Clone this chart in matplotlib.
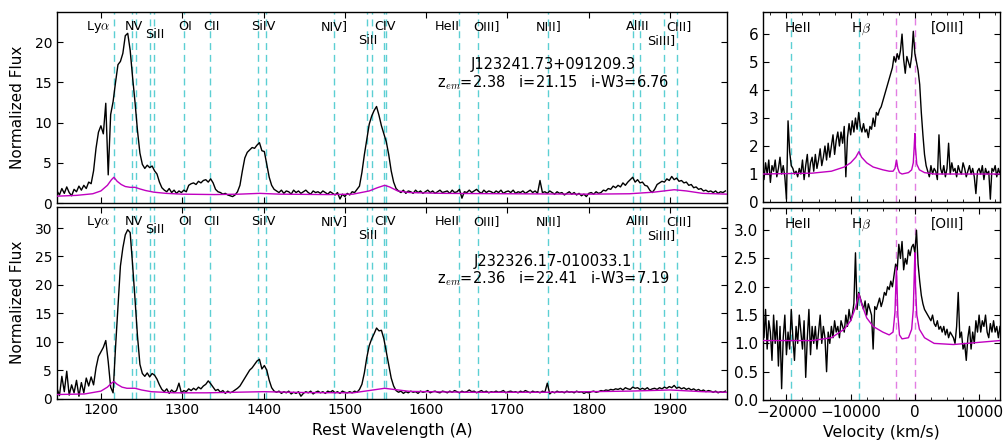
import matplotlib as mpl
import matplotlib.pyplot as plt
import numpy as np
from matplotlib.ticker import MultipleLocator, FormatStrFormatter

mpl.rcParams.update(
    {
        "font.family": "DejaVu Sans",
        "mathtext.fontset": "cm",
        "xtick.direction": "in",
        "ytick.direction": "in",
        "xtick.top": True,
        "ytick.right": True,
        "axes.linewidth": 1.0,
        "xtick.major.size": 4,
        "ytick.major.size": 4,
        "xtick.minor.size": 2,
    }
)

# ---- rest-frame UV spectra (3 A sampling) ----
wave = np.arange(1146, 1970, 3)

flux_j1232 = [
    1.5, 1.0, 1.8, 1.2, 2.0, 1.3, 0.9, 1.7, 1.4, 2.1,  # 1146
    1.6, 2.2, 1.8, 2.6, 2.4, 4.0, 6.8, 8.8, 9.6, 8.6,  # 1176
    12.4, 3.5, 11.0, 12.6, 15.0, 17.2, 17.6, 18.6, 20.8, 21.1,  # 1206
    19.0, 15.6, 12.5, 9.0, 6.2, 4.8, 4.3, 4.7, 4.4, 4.6,  # 1236
    4.0, 3.6, 2.6, 1.9, 1.6, 1.4, 1.8, 1.3, 1.6, 1.2,  # 1266
    1.5, 1.3, 1.6, 1.4, 2.2, 2.4, 2.5, 2.3, 2.7, 2.5,  # 1296
    2.8, 2.9, 2.6, 3.0, 2.5, 1.7, 1.4, 1.3, 1.1, 1.2,  # 1326
    1.0, 0.9, 0.8, 1.0, 1.4, 2.2, 4.0, 5.6, 6.3, 6.6,  # 1356
    6.9, 6.8, 7.2, 7.5, 6.5, 6.4, 4.8, 3.2, 2.2, 1.7,  # 1386
    1.5, 1.3, 1.6, 1.2, 1.5, 1.4, 1.1, 1.6, 1.3, 1.5,  # 1416
    1.2, 1.4, 1.6, 1.3, 1.1, 1.5, 1.3, 1.4, 1.2, 1.5,  # 1446
    1.3, 1.1, 1.4, 1.2, 1.0, 1.3, 0.5, 1.1, 0.8, 1.2,  # 1476
    1.0, 1.4, 1.3, 1.7, 2.1, 3.8, 6.0, 7.9, 9.8, 10.8,  # 1506
    11.5, 12.0, 10.9, 9.6, 8.6, 7.6, 6.0, 4.0, 2.6, 1.8,  # 1536
    1.5, 1.3, 1.6, 1.2, 1.5, 1.4, 1.2, 1.6, 1.3, 1.5,  # 1566
    1.2, 1.4, 1.6, 1.3, 1.5, 1.2, 1.4, 1.6, 1.3, 1.4,  # 1596
    1.5, 1.2, 1.6, 1.3, 1.4, 1.7, 0.6, 1.4, 1.3, 1.6,  # 1626
    1.3, 1.5, 1.7, 1.4, 1.2, 1.6, 1.3, 1.5, 1.4, 1.2,  # 1656
    1.5, 1.3, 1.6, 1.2, 1.4, 1.5, 1.3, 1.6, 1.2, 1.4,  # 1686
    1.3, 1.5, 1.2, 1.4, 1.6, 1.3, 1.5, 1.2, 2.8, 1.3,  # 1716
    1.4, 1.2, 1.5, 1.3, 1.1, 1.4, 1.2, 1.3, 1.0, 1.2,  # 1746
    1.4, 1.1, 1.3, 1.0, 1.2, 0.9, 1.1, 0.8, 1.2, 1.3,  # 1776
    1.1, 1.4, 1.2, 1.3, 1.6, 1.5, 1.8, 1.7, 2.1, 1.9,  # 1806
    2.2, 2.0, 2.5, 2.2, 2.6, 2.9, 3.2, 2.6, 2.9, 2.5,  # 1836
    2.6, 2.2, 2.1, 1.6, 1.3, 1.7, 2.3, 2.5, 2.7, 2.6,  # 1866
    3.0, 2.8, 3.3, 2.9, 3.1, 2.7, 2.8, 2.5, 2.6, 2.2,  # 1896
    2.3, 1.9, 2.0, 1.7, 1.8, 1.5, 1.6, 1.4, 1.5, 1.3,  # 1926
    1.5, 1.2, 1.4, 1.3, 1.5,  # 1956
]

flux_j2323 = [
    1.8, 0.5, 3.9, 1.2, 4.8, 0.6, 2.4, 1.0, 3.2, 0.4,  # 1146
    2.8, 1.0, 3.6, 2.2, 3.8, 2.4, 5.4, 7.4, 8.2, 9.0,  # 1176
    10.2, 6.5, 2.0, 1.0, 9.0, 16.0, 23.3, 26.5, 28.8, 29.7,  # 1206
    29.2, 23.5, 17.4, 11.0, 6.0, 4.4, 3.9, 4.5, 3.8, 4.4,  # 1236
    4.1, 3.4, 2.4, 1.6, 1.2, 1.7, 0.9, 1.5, 1.1, 1.4,  # 1266
    2.7, 1.0, 1.4, 1.2, 1.7, 1.4, 1.8, 1.5, 2.0, 1.7,  # 1296
    2.2, 2.5, 3.1, 2.6, 2.0, 1.4, 1.6, 1.1, 1.4, 0.9,  # 1326
    1.3, 1.0, 1.2, 1.5, 1.8, 2.2, 2.9, 3.6, 4.3, 5.0,  # 1356
    5.4, 6.0, 6.6, 6.9, 5.2, 5.8, 5.0, 3.2, 1.9, 1.3,  # 1386
    1.1, 1.3, 0.9, 1.2, 1.0, 1.3, 0.8, 1.1, 0.9, 1.2,  # 1416
    0.4, 0.9, 1.2, 1.0, 1.3, 0.8, 1.1, 1.3, 1.0, 1.2,  # 1446
    0.9, 1.3, 1.1, 1.4, 1.0, 1.2, 0.9, 1.3, 1.1, 1.0,  # 1476
    1.2, 1.0, 1.3, 1.1, 1.6, 2.5, 4.5, 7.2, 9.3, 10.5,  # 1506
    11.4, 12.4, 11.9, 12.0, 10.5, 8.2, 5.8, 3.6, 2.2, 1.4,  # 1536
    1.1, 1.3, 0.9, 1.2, 1.0, 1.3, 1.1, 1.2, 0.9, 1.3,  # 1566
    1.1, 1.2, 1.4, 1.0, 1.2, 1.3, 1.1, 1.0, 1.3, 1.2,  # 1596
    1.0, 1.3, 1.1, 1.4, 1.2, 1.0, 1.3, 1.1, 1.2, 1.5,  # 1626
    1.2, 1.3, 1.0, 1.2, 1.4, 1.1, 1.3, 1.0, 1.2, 1.1,  # 1656
    1.3, 1.1, 1.2, 1.4, 1.0, 1.2, 1.3, 1.1, 1.2, 1.0,  # 1686
    1.3, 1.1, 1.4, 1.2, 1.0, 1.3, 1.1, 1.2, 1.0, 1.3,  # 1716
    1.1, 2.7, 0.8, 1.2, 1.0, 1.3, 1.1, 1.2, 1.0, 1.3,  # 1746
    1.1, 1.2, 1.0, 1.3, 1.1, 1.2, 0.9, 1.1, 1.0, 1.2,  # 1776
    1.3, 1.1, 1.2, 1.4, 1.3, 1.5, 1.4, 1.6, 1.5, 1.7,  # 1806
    1.6, 1.8, 1.5, 1.9, 1.7, 1.6, 2.0, 1.8, 1.9, 1.6,  # 1836
    1.8, 1.6, 1.9, 1.5, 1.7, 1.8, 1.6, 1.9, 1.7, 2.0,  # 1866
    1.8, 2.1, 1.9, 2.3, 1.8, 2.0, 1.7, 1.9, 1.6, 1.8,  # 1896
    1.5, 1.7, 1.4, 1.6, 1.3, 1.5, 1.2, 1.4, 1.3, 1.1,  # 1926
    1.3, 1.0, 1.2, 1.1, 1.3,  # 1956
]

# composite model (magenta), knots
model_wave_j1232 = [1146, 1170, 1190, 1200, 1208, 1213, 1216, 1220, 1225, 1230, 1236, 1242,
                    1248, 1255, 1265, 1280, 1300, 1340, 1370, 1395, 1420, 1480, 1510, 1530,
                    1540, 1549, 1555, 1565, 1580, 1620, 1700, 1800, 1850, 1880, 1905, 1920,
                    1940, 1970]
model_flux_j1232 = [0.85, 0.95, 1.15, 1.5, 2.2, 2.9, 3.2, 2.7, 2.3, 2.05, 1.95, 1.95,
                    1.75, 1.55, 1.35, 1.2, 1.1, 1.05, 1.1, 1.2, 1.1, 1.05, 1.1, 1.5,
                    1.9, 2.2, 2.0, 1.5, 1.3, 1.2, 1.15, 1.1, 1.15, 1.35, 1.65, 1.5,
                    1.2, 1.1]
model_wave_j2323 = [1146, 1180, 1200, 1208, 1213, 1216, 1220, 1226, 1232, 1242, 1250, 1262,
                    1290, 1330, 1400, 1450, 1510, 1530, 1549, 1560, 1580, 1650, 1750, 1850,
                    1900, 1940, 1970]
model_flux_j2323 = [0.7, 0.8, 1.3, 2.0, 2.7, 3.0, 2.5, 2.0, 1.8, 1.8, 1.5, 1.2,
                    1.0, 1.0, 1.2, 1.05, 1.0, 1.4, 1.8, 1.6, 1.25, 1.1, 1.1, 1.3,
                    1.5, 1.2, 1.1]

# ---- H-beta / [OIII] region in velocity space (250 km/s sampling) ----
vel = np.arange(-23750, 13251, 250)

vflux_j1232 = [
    1.2, 0.8, 1.4, 1.0, 1.5, 0.7, 1.3, 1.1,  # -23750
    1.5, 0.9, 1.2, 1.6, 1.0, 1.3, 0.9, 0.1,  # -21750
    2.9, 1.8, 1.3, 1.2, 1.0, 1.1, 0.9, 1.2,  # -19750
    1.0, 1.5, 0.8, 1.3, 1.7, 0.9, 1.4, 1.6,  # -17750
    1.1, 1.7, 1.2, 1.5, 1.9, 1.3, 1.6, 2.0,  # -15750
    1.5, 2.1, 1.6, 2.0, 2.4, 1.7, 2.2, 2.5,  # -13750
    2.0, 2.5, 2.1, 2.7, 0.9, 2.3, 2.8, 2.4,  # -11750
    2.9, 2.5, 3.0, 2.6, 3.2, 2.7, 2.5, 2.8,  # -9750
    2.5, 2.6, 2.3, 2.7, 2.6, 3.0, 2.7, 3.2,  # -7750
    3.1, 3.3, 3.4, 3.6, 3.8, 4.0, 4.2, 4.4,  # -5750
    4.6, 4.8, 5.2, 5.0, 5.3, 5.1, 5.4, 6.0,  # -3750
    5.1, 4.6, 5.2, 5.0, 4.8, 5.2, 6.1, 5.3,  # -1750
    5.0, 4.7, 4.2, 3.2, 2.4, 1.7, 1.3, 1.1,  # 250
    0.9, 1.3, 1.0, 1.2, 1.1, 0.8, 2.4, 1.2,  # 2250
    1.0, 1.3, 0.9, 1.2, 2.1, 1.0, 1.4, 1.1,  # 4250
    1.2, 0.9, 1.3, 1.1, 1.0, 1.4, 1.2, 0.9,  # 6250
    1.1, 1.3, 1.0, 1.2, 0.9, 0.3, 1.1, 1.2,  # 8250
    1.0, 1.3, 0.8, 1.2, 1.0, 1.1, 0.1, 1.2,  # 10250
    1.1, 1.3, 0.9, 1.2, 1.0,  # 12250
]

vflux_j2323 = [
    1.3, 1.1, 1.6, 0.9, 1.4, 1.2, 0.7, 1.5,  # -23750
    1.0, 1.4, 0.6, 1.3, 0.2, 1.1, 1.5, 0.8,  # -21750
    1.2, 0.9, 1.6, 1.1, 0.7, 1.3, 1.0, 1.5,  # -19750
    1.2, 0.9, 1.4, 0.4, 1.1, 1.6, 0.8, 1.3,  # -17750
    1.0, 1.3, 0.9, 1.2, 1.5, 1.0, 1.3, 1.1,  # -15750
    0.5, 1.2, 1.0, 1.3, 1.1, 1.4, 1.2, 1.3,  # -13750
    1.1, 1.4, 1.3, 1.2, 1.5, 1.3, 1.6, 1.4,  # -11750
    1.5, 1.7, 2.6, 1.6, 1.9, 1.8, 1.7, 1.6,  # -9750
    1.75, 1.5, 1.7, 1.6, 1.5, 0.9, 1.65, 1.6,  # -7750
    1.7, 1.8, 1.65, 1.75, 1.9, 1.85, 2.0, 1.95,  # -5750
    2.1, 2.0, 2.2, 2.4, 2.3, 2.75, 2.5, 2.8,  # -3750
    2.3, 2.5, 2.4, 2.65, 2.55, 2.7, 2.75, 2.6,  # -1750
    3.0, 2.4, 2.1, 1.85, 1.7, 1.6, 1.55, 1.5,  # 250
    1.45, 1.4, 1.5, 1.35, 1.3, 1.4, 1.25, 1.3,  # 2250
    1.2, 1.3, 1.15, 1.25, 1.1, 1.2, 1.15, 1.1,  # 4250
    1.0, 1.3, 1.9, 1.1, 1.2, 0.9, 1.0, 0.7,  # 6250
    1.1, 1.3, 0.9, 1.2, 1.0, 1.4, 1.2, 1.5,  # 8250
    1.2, 1.4, 1.3, 1.5, 1.2, 1.1, 1.35, 1.2,  # 10250
    1.4, 1.2, 1.3, 1.1, 1.3,  # 12250
]

model_vel = [-23750, -16000, -13000, -11000, -10000, -9200, -8720, -8300, -7500, -6500,
             -5000, -4000, -3400, -3100, -2870, -2650, -2400, -2000, -1000, -500,
             -250, -100, 0, 100, 300, 700, 1500, 3000, 6000, 13250]
model_vflux_j1232 = [1.0, 1.03, 1.1, 1.25, 1.4, 1.6, 1.8, 1.6, 1.4, 1.25,
                     1.15, 1.1, 1.1, 1.2, 1.5, 1.2, 1.05, 1.0, 1.05, 1.15,
                     1.4, 2.0, 2.45, 1.9, 1.35, 1.15, 1.05, 1.0, 1.0, 1.0]
model_vflux_j2323 = [1.05, 1.05, 1.1, 1.25, 1.4, 1.65, 1.88, 1.7, 1.45, 1.3,
                     1.2, 1.15, 1.2, 1.55, 2.35, 1.5, 1.15, 1.08, 1.1, 1.25,
                     1.6, 2.2, 2.6, 2.0, 1.5, 1.25, 1.1, 1.0, 0.98, 1.05]

# line identifications
uv_lines = [1215.67, 1238.82, 1242.80, 1260.42, 1264.74, 1302.17, 1334.53, 1393.76,
            1402.77, 1486.50, 1526.71, 1533.43, 1548.20, 1550.77, 1640.42, 1663.48,
            1750.00, 1854.72, 1862.79, 1892.03, 1908.73]
uv_names = ["Ly$\\alpha$", "NV", "SiII", "OI", "CII", "SiIV", "NIV]", "SiII", "CIV",
            "HeII", "OIII]", "NIII]", "AlIII", "SiIII]", "CIII]"]
uv_name_wave = [1197, 1241, 1266, 1304, 1336, 1400, 1487, 1528, 1549,
                1626, 1674, 1751, 1860, 1889, 1911]
uv_name_row = [0, 0, 1, 0, 0, 0, 0, 2, 0, 0, 0, 0, 0, 2, 0]

opt_lines_cyan = [-19230, -8720]
opt_lines_mag = [-2870, 0]
opt_names = ["HeII", "H$\\beta$", "[OIII]"]
opt_name_vel = [-18200, -8400, 5150]

names = ["J123241.73+091209.3", "J232326.17-010033.1"]
info = ["z$_{em}$=2.38   i=21.15   i-W3=6.76", "z$_{em}$=2.36   i=22.41   i-W3=7.19"]

CYAN = "#5ccfd3"
VIOLET = "#e27ee2"
MODEL = "#c000c0"
ROW_Y = [0.905, 0.865, 0.834]

fig = plt.figure(figsize=(10.05, 4.42), dpi=100)
ax_uv = [fig.add_axes([0.0567, 0.5407, 0.6667, 0.4322]),
         fig.add_axes([0.0567, 0.0984, 0.6667, 0.4333])]
ax_op = [fig.add_axes([0.7592, 0.5430, 0.2358, 0.4299]),
         fig.add_axes([0.7592, 0.0950, 0.2358, 0.4355])]

uv_flux = [flux_j1232, flux_j2323]
uv_model = [(model_wave_j1232, model_flux_j1232), (model_wave_j2323, model_flux_j2323)]
uv_ylim = [23.75, 33.7]
uv_text_y = [(0.703, 0.606), (0.693, 0.603)]

for i, ax in enumerate(ax_uv):
    for lam in uv_lines:
        ax.axvline(lam, color=CYAN, lw=1.0, dashes=(5, 3.5), zorder=1)
    ax.plot(wave, uv_flux[i], color="black", lw=1.0, zorder=3)
    ax.plot(uv_model[i][0], uv_model[i][1], color=MODEL, lw=1.0, zorder=4)
    for txt, lam, row in zip(uv_names, uv_name_wave, uv_name_row):
        ax.text(lam, ROW_Y[row], txt, transform=ax.get_xaxis_transform(),
                ha="center", va="baseline", fontsize=9.2)
    ax.text(1756, uv_text_y[i][0], names[i], transform=ax.get_xaxis_transform(),
            ha="center", va="baseline", fontsize=10.5)
    ax.text(1756, uv_text_y[i][1], info[i], transform=ax.get_xaxis_transform(),
            ha="center", va="baseline", fontsize=10.5)
    ax.set_xlim(1146, 1970)
    ax.set_ylim(0, uv_ylim[i])
    ax.yaxis.set_major_locator(MultipleLocator(5))
    ax.xaxis.set_major_locator(MultipleLocator(100))
    ax.tick_params(labelsize=10)
    ax.set_ylabel("Normalized Flux", fontsize=11)
    ax.yaxis.set_label_coords(-0.047, 0.5)
ax_uv[0].tick_params(labelbottom=False)
ax_uv[1].set_xlabel("Rest Wavelength (A)", fontsize=11.3)

op_flux = [vflux_j1232, vflux_j2323]
op_model = [model_vflux_j1232, model_vflux_j2323]
op_ylim = [6.79, 3.40]

for i, ax in enumerate(ax_op):
    for v in opt_lines_cyan:
        ax.axvline(v, color=CYAN, lw=1.0, dashes=(5, 3.5), zorder=1)
    for v in opt_lines_mag:
        ax.axvline(v, color=VIOLET, lw=1.0, dashes=(5, 3.5), zorder=1)
    ax.plot(vel, op_flux[i], color="black", lw=1.0, zorder=3)
    ax.plot(model_vel, op_model[i], color=MODEL, lw=1.0, zorder=4)
    for txt, v in zip(opt_names, opt_name_vel):
        ax.text(v, 0.893, txt, transform=ax.get_xaxis_transform(),
                ha="center", va="baseline", fontsize=9.8)
    ax.set_xlim(-23650, 13250)
    ax.set_ylim(0, op_ylim[i])
    ax.xaxis.set_major_locator(MultipleLocator(10000))
    ax.xaxis.set_minor_locator(MultipleLocator(2500))
    ax.tick_params(labelsize=11)
ax_op[0].yaxis.set_major_locator(MultipleLocator(1))
ax_op[1].yaxis.set_major_locator(MultipleLocator(0.5))
ax_op[1].yaxis.set_major_formatter(FormatStrFormatter("%.1f"))
ax_op[0].tick_params(labelbottom=False)
ax_op[1].set_xlabel("Velocity (km/s)", fontsize=11.3)

fig.savefig("out.png", dpi=100)
